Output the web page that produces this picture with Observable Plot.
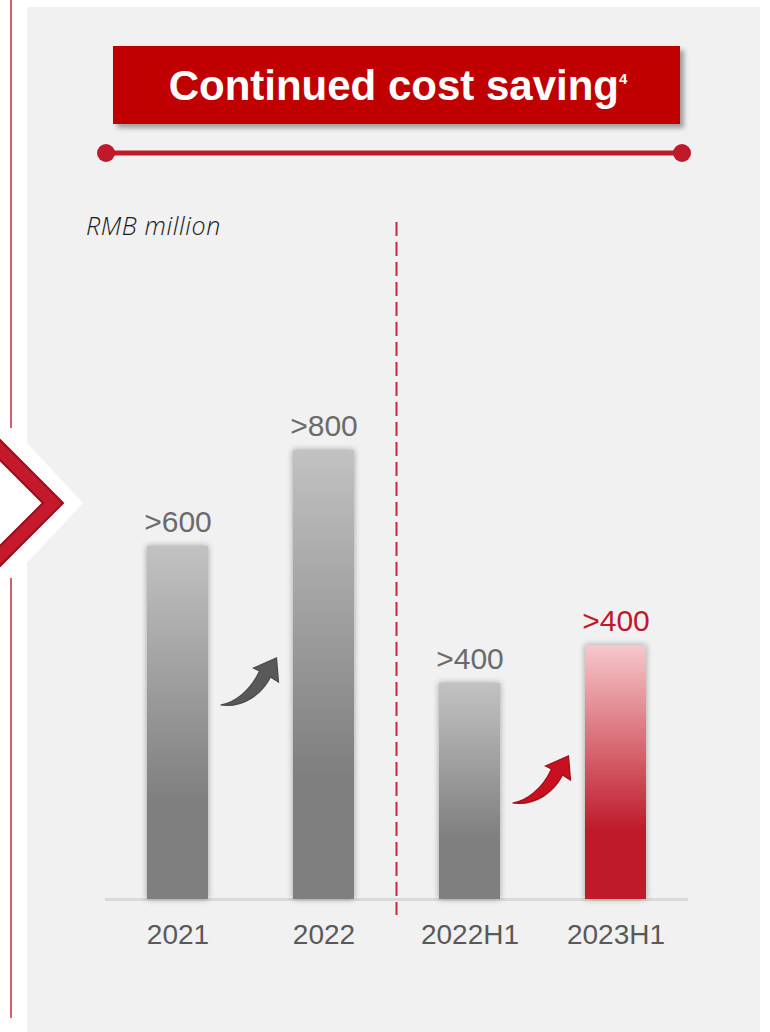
<!DOCTYPE html>
<html><head><meta charset="utf-8">
<script src="https://cdn.jsdelivr.net/npm/d3@7"></script>
<script src="https://cdn.jsdelivr.net/npm/@observablehq/plot@0.6"></script>
<style>
html,body{margin:0;padding:0;background:#fff;}
#wrap{position:relative;width:770px;height:1032px;overflow:hidden;font-family:"Liberation Sans",Arial,sans-serif;}
#panel{position:absolute;left:27px;top:7px;width:733px;height:1025px;background:#f1f1f1;}
#decor,#chart{position:absolute;left:0;top:0;}
</style></head><body>
<div id="wrap"><div id="panel"></div><svg id="decor" width="770" height="1032"></svg><div id="chart"></div></div>
<script>
// ---- data ----
const categories = ["2021", "2022", "2022H1", "2023H1"];
const values = [670, 852, 410, 482];           // RMB million (estimated bar heights)
const valueLabels = [">600", ">800", ">400", ">400"];
const highlight = [false, false, false, true];
const titleText = "Continued cost saving";
const titleNote = "4";
const unitLabel = "RMB million";
const growthArrows = [["2021", "2022"], ["2022H1", "2023H1"]];
const periodBreak = ["2022", "2022H1"];

const data = categories.map((c, i) => ({cat: c, value: values[i], label: valueLabels[i], hl: highlight[i]}));

// ---- decorations ----
const dec = d3.select("#decor");
const defs = dec.append("defs");
const f = defs.append("filter").attr("id", "tsh").attr("x", "-10%").attr("y", "-30%").attr("width", "130%").attr("height", "180%");
f.append("feDropShadow").attr("dx", 4).attr("dy", 4).attr("stdDeviation", 2.5).attr("flood-color", "#000").attr("flood-opacity", 0.35);

dec.append("line").attr("x1", 11).attr("x2", 11).attr("y1", 0).attr("y2", 428).attr("stroke", "#c8283a").attr("stroke-width", 1.5);
dec.append("line").attr("x1", 11).attr("x2", 11).attr("y1", 578).attr("y2", 1018).attr("stroke", "#c8283a").attr("stroke-width", 1.5);
dec.append("polygon").attr("points", "27,443 83,503 27,563").attr("fill", "#fff");
dec.append("polygon").attr("points", "-2,438 63,503 -2,568 -2,548 43,503 -2,458")
  .attr("fill", "#c41a2c").attr("stroke", "#9a0e1c").attr("stroke-width", 2).attr("stroke-linejoin", "miter");

dec.append("rect").attr("x", 113).attr("y", 46).attr("width", 567).attr("height", 78).attr("fill", "#c00000").attr("filter", "url(#tsh)");
const tt = dec.append("text").attr("x", 398).attr("y", 100).attr("text-anchor", "middle")
  .attr("font-family", "Liberation Sans, Arial, sans-serif").attr("font-weight", "bold").attr("font-size", 42).attr("fill", "#fff");
tt.append("tspan").text(titleText);
tt.append("tspan").attr("font-size", 15).attr("dy", -16).text(titleNote);

dec.append("line").attr("x1", 106).attr("x2", 682).attr("y1", 153).attr("y2", 153).attr("stroke", "#c0192a").attr("stroke-width", 5);
dec.append("circle").attr("cx", 106).attr("cy", 153).attr("r", 9).attr("fill", "#c0192a");
dec.append("circle").attr("cx", 682).attr("cy", 153).attr("r", 9).attr("fill", "#c0192a");

dec.append("text").attr("x", 86).attr("y", 235).attr("font-family", "Open Sans, sans-serif").attr("font-style", "italic")
  .attr("font-weight", 300).attr("font-size", 25).attr("letter-spacing", 0.6).attr("fill", "#1a1a1a").text(unitLabel);

// ---- custom render marks ----
function breakLine(index, scales) {
  const x = scales.x, bw = x.bandwidth();
  const xm = (x(periodBreak[0]) + bw + x(periodBreak[1])) / 2;
  return d3.create("svg:line").attr("x1", xm).attr("x2", xm).attr("y1", 222).attr("y2", 915)
    .attr("stroke", "#c8283a").attr("stroke-width", 2).attr("stroke-dasharray", "14,6").node();
}
const arrowPath = "M0,0 C14,-2 30,-14 39,-34 L33,-37 L56,-47 L58,-23 L50,-28 C42,-12 24,3 0,0 Z";
function arrowMarks(index, scales) {
  const x = scales.x, y = scales.y, bw = x.bandwidth();
  const base = y(0);
  const lifts = [194, 96];
  const styles = [{fill: "#595959", stroke: "#4a4a4a"}, {fill: "#c8101e", stroke: "#a00d1a"}];
  const g = d3.create("svg:g");
  growthArrows.forEach(([a, b], i) => {
    const mid = (x(a) + bw + x(b)) / 2;
    g.append("path").attr("d", arrowPath)
      .attr("transform", `translate(${mid - 30},${base - lifts[i]})`)
      .attr("fill", styles[i].fill).attr("stroke", styles[i].stroke).attr("stroke-width", 1.2);
  });
  return g.node();
}

// ---- chart ----
const chart = Plot.plot({
  width: 770, height: 1032,
  marginLeft: 105, marginRight: 82, marginTop: 372, marginBottom: 133,
  style: {background: "transparent", fontFamily: "Liberation Sans, Arial, sans-serif", overflow: "visible"},
  x: {domain: categories, paddingInner: 0.583, paddingOuter: 0.284, label: null},
  y: {domain: [0, 1000], axis: null},
  marks: [
    Plot.ruleY([0], {stroke: "#d9d9d9", strokeWidth: 3}),
    Plot.barY(data, {filter: d => !d.hl, x: "cat", y: "value", fill: "url(#gGrey)"}),
    Plot.barY(data, {filter: d => d.hl, x: "cat", y: "value", fill: "url(#gRed)"}),
    Plot.text(data, {filter: d => !d.hl, x: "cat", y: "value", text: "label", dy: -24, fontSize: 30, fill: "#6b6b6b"}),
    Plot.text(data, {filter: d => d.hl, x: "cat", y: "value", text: "label", dy: -24, fontSize: 30, fill: "#c0172b"}),
    Plot.axisX({tickSize: 0, tickPadding: 25, fontSize: 28, fill: "#595959", label: null}),
    breakLine,
    arrowMarks
  ]
});

const svg = d3.select(chart);
const cd = svg.insert("defs", ":first-child");
const gg = cd.append("linearGradient").attr("id", "gGrey").attr("x1", 0).attr("x2", 0).attr("y1", 0).attr("y2", 1);
gg.append("stop").attr("offset", "0%").attr("stop-color", "#c2c2c2");
gg.append("stop").attr("offset", "72%").attr("stop-color", "#7f7f7f");
gg.append("stop").attr("offset", "100%").attr("stop-color", "#7f7f7f");
const gr = cd.append("linearGradient").attr("id", "gRed").attr("x1", 0).attr("x2", 0).attr("y1", 0).attr("y2", 1);
gr.append("stop").attr("offset", "0%").attr("stop-color", "#f7c8cc");
gr.append("stop").attr("offset", "73%").attr("stop-color", "#be1a2a");
gr.append("stop").attr("offset", "100%").attr("stop-color", "#be1a2a");
svg.selectAll("g[aria-label='bar']").style("filter", "drop-shadow(0px 0px 3px rgba(0,0,0,0.35))");

document.getElementById("chart").appendChild(chart);
</script>
</body></html>
